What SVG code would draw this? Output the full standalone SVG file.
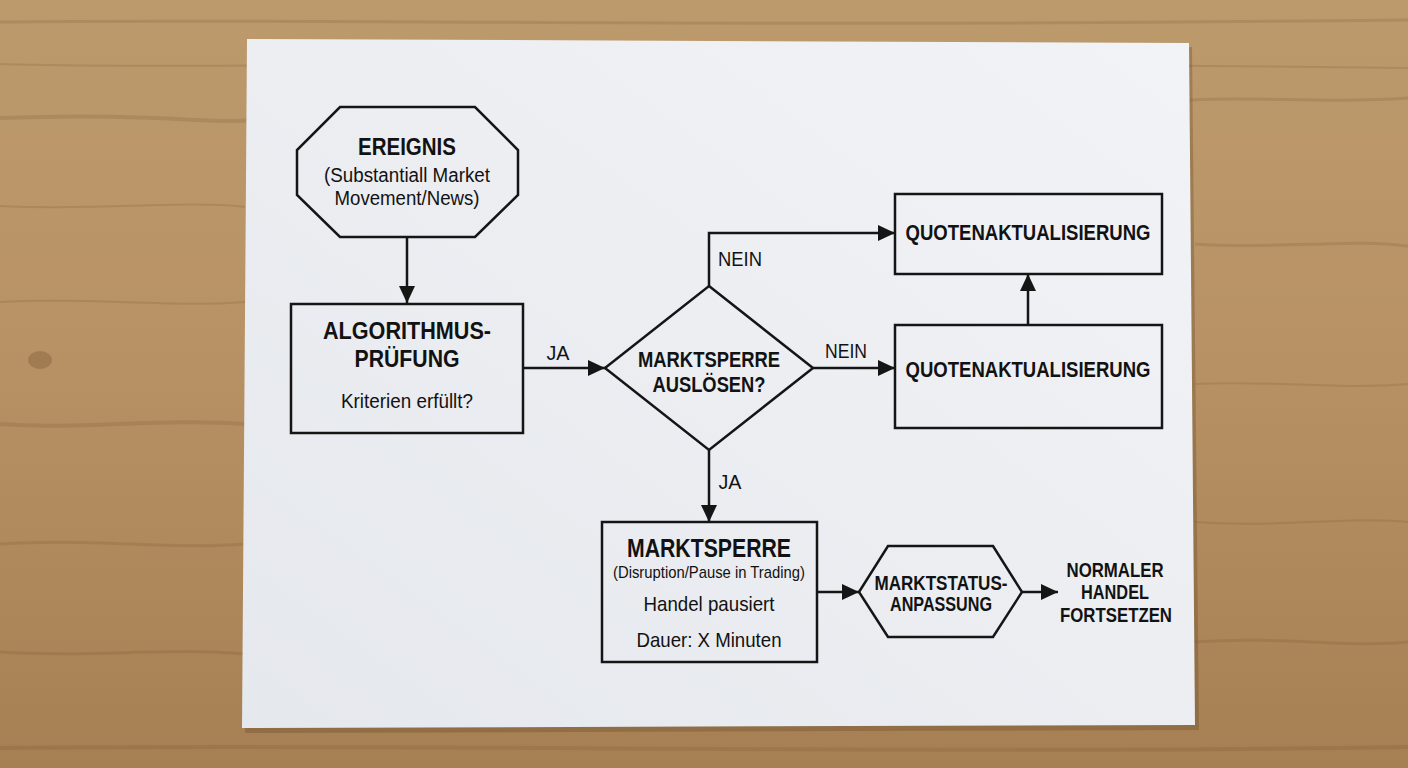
<svg xmlns="http://www.w3.org/2000/svg" width="1408" height="768" viewBox="0 0 1408 768">
<defs>
<linearGradient id="wood" x1="0" y1="0" x2="0" y2="1">
<stop offset="0" stop-color="#bc9a6c"/>
<stop offset="0.45" stop-color="#b89264"/>
<stop offset="1" stop-color="#a67f52"/>
</linearGradient>
<linearGradient id="paper" x1="1" y1="0" x2="0" y2="1">
<stop offset="0" stop-color="#f2f3f6"/>
<stop offset="1" stop-color="#e5e8ed"/>
</linearGradient>
<marker id="ah" markerWidth="17" markerHeight="16" refX="17" refY="8" orient="auto" markerUnits="userSpaceOnUse">
<path d="M0,0 L17,8 L0,16 z" fill="#151515"/>
</marker>
<style>
.shape{fill:none;stroke:#151515;stroke-width:2.5;stroke-linejoin:miter}
.con{fill:none;stroke:#151515;stroke-width:2.5;marker-end:url(#ah)}
.t{font-family:"Liberation Sans",Arial,sans-serif;fill:#121212;text-anchor:middle}
.b{font-weight:700}
.grain{stroke:#7d5a36;fill:none}
</style>
</defs>
<rect width="1408" height="768" fill="url(#wood)"/>
<g opacity="0.22">
<path class="grain" stroke-width="3" d="M0,22 C300,18 700,28 1408,20"/>
<path class="grain" stroke-width="2" d="M0,64 C200,70 500,58 1408,68"/>
<path class="grain" stroke-width="4" d="M0,118 C150,112 220,125 250,120"/>
<path class="grain" stroke-width="3" d="M1190,100 C1260,96 1330,104 1408,98"/>
<path class="grain" stroke-width="2" d="M0,206 C100,211 180,200 245,207"/>
<path class="grain" stroke-width="3" d="M1195,244 C1280,250 1350,238 1408,246"/>
<path class="grain" stroke-width="2" d="M0,302 C90,297 170,308 245,302"/>
<path class="grain" stroke-width="4" d="M0,424 C80,430 160,418 245,424"/>
<path class="grain" stroke-width="2" d="M1195,384 C1270,380 1340,390 1408,384"/>
<path class="grain" stroke-width="3" d="M0,544 C90,538 170,550 245,544"/>
<path class="grain" stroke-width="2" d="M1195,522 C1280,528 1350,516 1408,522"/>
<path class="grain" stroke-width="3" d="M0,652 C90,658 170,647 245,654"/>
<path class="grain" stroke-width="3" d="M1195,642 C1280,636 1350,648 1408,642"/>
<path class="grain" stroke-width="4" d="M0,748 C400,743 900,755 1408,747"/>
</g>
<ellipse cx="40" cy="360" rx="12" ry="9" fill="#6e4a2a" opacity="0.3"/>
<polygon points="249,43 1192,47 1199,730 245,733" fill="#5e4226" opacity="0.3"/>
<polygon points="247,39 1189,43 1195,725 242,728" fill="url(#paper)"/>

<g id="connectors">
<line class="con" x1="407" y1="237" x2="407" y2="303"/>
<line class="con" x1="523" y1="368" x2="605" y2="368"/>
<polyline class="con" points="709,286 709,233 895,233"/>
<line class="con" x1="813" y1="368" x2="895" y2="368"/>
<line class="con" x1="1028" y1="325" x2="1028" y2="274"/>
<line class="con" x1="709" y1="450" x2="709" y2="522"/>
<line class="con" x1="817" y1="592" x2="859" y2="592"/>
<line class="con" x1="1022" y1="592" x2="1058" y2="592"/>
<text class="t" x="558" y="360" font-size="20" textLength="23" lengthAdjust="spacingAndGlyphs">JA</text>
<text class="t" x="740" y="266" font-size="20" textLength="44" lengthAdjust="spacingAndGlyphs">NEIN</text>
<text class="t" x="846" y="358" font-size="20" textLength="42" lengthAdjust="spacingAndGlyphs">NEIN</text>
<text class="t" x="730" y="489" font-size="20" textLength="23" lengthAdjust="spacingAndGlyphs">JA</text>
</g>

<g id="ereignis">
<polygon class="shape" points="340,107 475,107 518,150 518,195 475,237 340,237 297,195 297,150"/>
<text class="t b" x="407" y="155" font-size="23" textLength="98" lengthAdjust="spacingAndGlyphs">EREIGNIS</text>
<text class="t" x="407" y="182" font-size="20" textLength="166" lengthAdjust="spacingAndGlyphs">(Substantiall Market</text>
<text class="t" x="407" y="205" font-size="20" textLength="145" lengthAdjust="spacingAndGlyphs">Movement/News)</text>
</g>

<g id="algorithmus">
<rect class="shape" x="291" y="304" width="232" height="129"/>
<text class="t b" x="407" y="339" font-size="24" textLength="168" lengthAdjust="spacingAndGlyphs">ALGORITHMUS-</text>
<text class="t b" x="407" y="367" font-size="24" textLength="105" lengthAdjust="spacingAndGlyphs">PRÜFUNG</text>
<text class="t" x="407" y="408" font-size="20" textLength="132" lengthAdjust="spacingAndGlyphs">Kriterien erfüllt?</text>
</g>

<g id="entscheidung">
<polygon class="shape" points="709,286 813,368 709,450 605,368"/>
<text class="t b" x="709" y="367" font-size="22" textLength="142" lengthAdjust="spacingAndGlyphs">MARKTSPERRE</text>
<text class="t b" x="709" y="392" font-size="22" textLength="113" lengthAdjust="spacingAndGlyphs">AUSLÖSEN?</text>
</g>

<g id="quote1">
<rect class="shape" x="895" y="194" width="267" height="80"/>
<text class="t b" x="1028" y="240" font-size="22" textLength="245" lengthAdjust="spacingAndGlyphs">QUOTENAKTUALISIERUNG</text>
</g>

<g id="quote2">
<rect class="shape" x="895" y="325" width="267" height="103"/>
<text class="t b" x="1028" y="377" font-size="22" textLength="245" lengthAdjust="spacingAndGlyphs">QUOTENAKTUALISIERUNG</text>
</g>

<g id="marktsperre">
<rect class="shape" x="602" y="522" width="215" height="140"/>
<text class="t b" x="709" y="557" font-size="25" textLength="164" lengthAdjust="spacingAndGlyphs">MARKTSPERRE</text>
<text class="t" x="709" y="578" font-size="17" textLength="192" lengthAdjust="spacingAndGlyphs">(Disruption/Pause in Trading)</text>
<text class="t" x="709" y="611" font-size="21" textLength="131" lengthAdjust="spacingAndGlyphs">Handel pausiert</text>
<text class="t" x="709" y="647" font-size="21" textLength="145" lengthAdjust="spacingAndGlyphs">Dauer: X Minuten</text>
</g>

<g id="marktstatus">
<polygon class="shape" points="888,546 993,546 1022,592 993,637 888,637 859,592"/>
<text class="t b" x="941" y="590" font-size="20" textLength="133" lengthAdjust="spacingAndGlyphs">MARKTSTATUS-</text>
<text class="t b" x="941" y="611" font-size="20" textLength="102" lengthAdjust="spacingAndGlyphs">ANPASSUNG</text>
</g>

<g id="normal">
<text class="t b" x="1115" y="577" font-size="20" textLength="97" lengthAdjust="spacingAndGlyphs">NORMALER</text>
<text class="t b" x="1115" y="599" font-size="20" textLength="68" lengthAdjust="spacingAndGlyphs">HANDEL</text>
<text class="t b" x="1116" y="622" font-size="20" textLength="112" lengthAdjust="spacingAndGlyphs">FORTSETZEN</text>
</g>
</svg>
